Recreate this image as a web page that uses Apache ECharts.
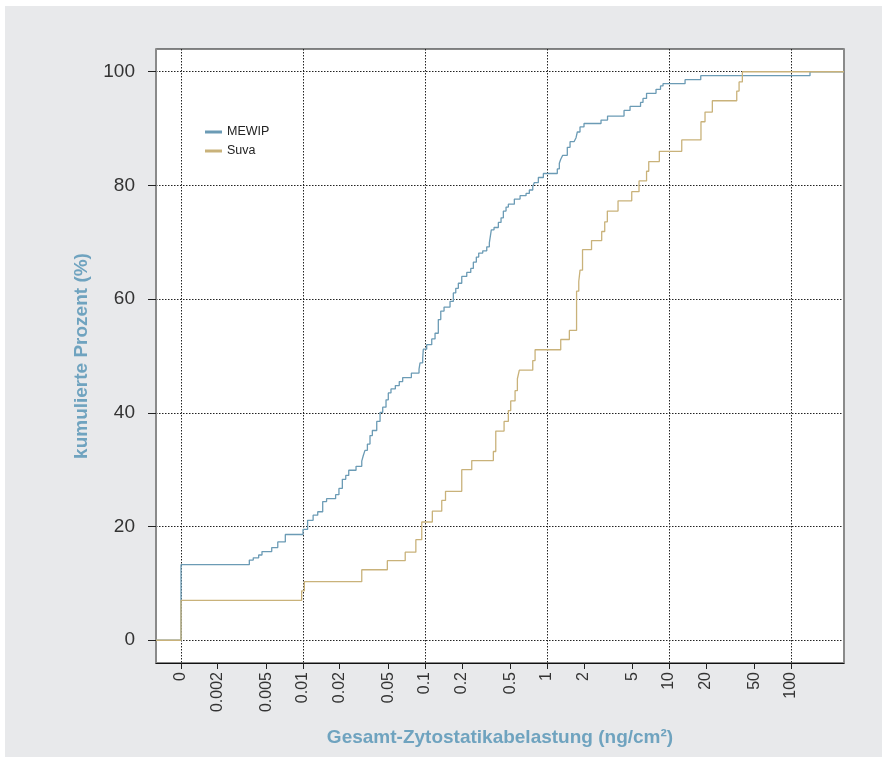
<!DOCTYPE html>
<html>
<head>
<meta charset="utf-8">
<script src="https://cdn.jsdelivr.net/npm/echarts@6/dist/echarts.min.js"></script>
<style>
  html, body { margin: 0; padding: 0; background: #fff; }
  #chart { width: 882px; height: 760px; }
</style>
</head>
<body>
<div id="chart"></div>
<script>
// ---- data ----
const seriesNames = ['MEWIP', 'Suva'];

// exposure values in ng/cm² (0 = below detection, drawn at the "0" tick)
const mewipX = [0, 0.00363, 0.00391, 0.00433, 0.00461, 0.00554, 0.00621, 0.00716, 0.0100, 0.0109,
  0.0121, 0.0132, 0.0145, 0.0156, 0.0185, 0.0197, 0.0210, 0.0224, 0.0237, 0.0272,
  0.0303, 0.0312, 0.0322, 0.0337, 0.0354, 0.0370, 0.0402, 0.0428, 0.0450, 0.0479,
  0.0500, 0.0526, 0.0571, 0.0615, 0.0656, 0.0773, 0.0893, 0.0910, 0.0957, 0.0968,
  0.1032, 0.1135, 0.1208, 0.1285, 0.1346, 0.1432, 0.1603, 0.1706, 0.1786, 0.1875,
  0.2000, 0.2198, 0.2371, 0.2489, 0.2633, 0.2754, 0.2972, 0.3206, 0.3366, 0.3494,
  0.3678, 0.3990, 0.4198, 0.4385, 0.4613, 0.4819, 0.5397, 0.6011, 0.6730, 0.7161,
  0.7638, 0.7871, 0.8487, 0.9330, 1.214, 1.261, 1.295, 1.344, 1.466, 1.544,
  1.665, 1.729, 1.771, 1.863, 2.009, 2.770, 3.133, 4.277, 4.790, 5.840,
  6.118, 6.541, 7.822, 8.514, 8.926, 13.53, 18.19, 143];
// cumulative percent
const mewipY = [13.3, 14.1, 14.5, 15.0, 15.6, 16.3, 17.3, 18.6, 19.5, 21.1,
  22.0, 22.6, 24.4, 24.9, 25.6, 26.7, 28.3, 29.0, 29.9, 30.6,
  31.5, 32.5, 33.4, 34.5, 36.0, 36.9, 38.5, 40.1, 41.0, 42.3,
  43.5, 44.2, 44.8, 45.5, 46.2, 47.0, 47.7, 48.8, 49.6, 51.2,
  52.0, 53.0, 54.0, 56.4, 57.9, 58.6, 59.6, 61.1, 61.9, 62.8,
  64.0, 64.7, 65.4, 66.5, 67.4, 68.1, 68.5, 69.2, 69.9, 72.2,
  72.6, 73.5, 74.3, 75.5, 76.2, 76.7, 77.6, 78.2, 78.6, 79.2,
  79.8, 80.5, 81.4, 82.1, 82.9, 83.9, 84.6, 85.3, 86.7, 87.7,
  88.0, 88.4, 89.4, 90.3, 90.9, 91.5, 92.2, 93.2, 93.9, 94.6,
  95.3, 96.2, 96.9, 97.5, 97.9, 98.6, 99.3, 100];

const suvaX = [0, 0.00975, 0.01025, 0.0303, 0.0491, 0.0688, 0.0841, 0.0940, 0.1148, 0.1371,
  0.1472, 0.2000, 0.2415, 0.3631, 0.3800, 0.4446, 0.4819, 0.5039, 0.5470, 0.5715,
  0.5929, 0.7638, 0.7980, 1.295, 1.524, 1.746, 1.820, 1.864, 1.954, 2.316,
  2.806, 2.971, 3.121, 3.819, 4.946, 5.675, 6.541, 6.818, 8.326, 12.71,
  18.27, 19.72, 22.64, 35.89, 37.50, 39.91];
const suvaY = [7.0, 8.7, 10.3, 12.4, 14.0, 15.5, 17.7, 20.8, 22.7, 24.6,
  26.2, 30.0, 31.6, 33.2, 36.8, 38.5, 40.4, 42.1, 43.9, 46.0,
  47.5, 49.2, 51.1, 52.9, 54.5, 61.4, 63.1, 65.1, 68.7, 70.3,
  71.9, 73.6, 75.5, 77.3, 78.9, 80.8, 82.5, 84.2, 86.0, 88.0,
  91.2, 92.9, 94.9, 96.6, 98.2, 100];

// axis ticks
const xTickValues = [0, 0.002, 0.005, 0.01, 0.02, 0.05, 0.1, 0.2, 0.5, 1, 2, 5, 10, 20, 50, 100];
const xTickLabels = ['0', '0.002', '0.005', '0.01', '0.02', '0.05', '0.1', '0.2', '0.5', '1', '2', '5', '10', '20', '50', '100'];
const xGridValues = [0, 0.01, 0.1, 1, 10, 100];
const yTickValues = [0, 20, 40, 60, 80, 100];

const xTitle = 'Gesamt-Zytostatikabelastung (ng/cm²)';
const yTitle = 'kumulierte Prozent (%)';

// ---- scale helpers ----
const ZERO_AT = 0.001;               // where "0" is placed on the log scale
const toLog = v => Math.log10(v === 0 ? ZERO_AT : v);
const X_MIN = -3.205, X_MAX = 2.434; // axis limits in log10 units
const Y_MIN = -4, Y_MAX = 104;

function ecdf(xs, ys) {
  const pts = [[X_MIN, 0]];
  for (let i = 0; i < xs.length; i++) pts.push([toLog(xs[i]), ys[i]]);
  pts.push([X_MAX, ys[ys.length - 1]]);
  return pts;
}

const xTickLog = xTickValues.map(toLog);
const xGridLog = xGridValues.map(toLog);

function xLabel(val) {
  for (let i = 0; i < xTickLog.length; i++) {
    if (Math.abs(xTickLog[i] - val) < 1e-6) return xTickLabels[i];
  }
  return '';
}

const FONT = '"Liberation Sans", Arial, sans-serif';
const TITLE_COLOR = '#6fa3bf';
const colors = ['#6b9bb5', '#c9b27a'];
const gridLine = { show: true, lineStyle: { color: '#222', type: [1.5, 1.5], width: 1 } };

const chart = echarts.init(document.getElementById('chart'), null, { renderer: 'canvas' });
chart.setOption({
  animation: false,
  backgroundColor: '#ffffff',
  textStyle: { fontFamily: FONT },
  graphic: [{
    type: 'rect', z: -100, silent: true,
    shape: { x: 5, y: 6, width: 877, height: 751 },
    style: { fill: '#e8e9eb' }
  }],
  grid: {
    left: 156, top: 49, right: 38, bottom: 97,
    show: true, backgroundColor: '#ffffff', borderColor: '#111', borderWidth: 1
  },
  legend: {
    data: seriesNames,
    orient: 'vertical',
    left: 200, top: 120,
    icon: 'rect', itemWidth: 17, itemHeight: 3, itemGap: 5,
    textStyle: { fontSize: 12.5, color: '#222', fontFamily: FONT, lineHeight: 14 }
  },
  xAxis: [{
    type: 'value', min: X_MIN, max: X_MAX, position: 'bottom',
    name: xTitle, nameLocation: 'middle', nameGap: 65,
    nameTextStyle: { fontSize: 19, fontWeight: 'bold', color: TITLE_COLOR, fontFamily: FONT },
    axisLine: { show: true, onZero: false, lineStyle: { color: '#111', width: 1 } },
    axisTick: { show: true, length: 6, customValues: xTickLog, lineStyle: { color: '#222' } },
    axisLabel: { show: true, customValues: xTickLog, rotate: 90, fontSize: 16, margin: 9,
      color: '#333', fontFamily: FONT, formatter: xLabel },
    splitLine: { show: false }
  }, {
    type: 'value', min: X_MIN, max: X_MAX, position: 'bottom',
    axisLine: { show: false, onZero: false },
    axisTick: { show: false, customValues: xGridLog },
    axisLabel: { show: false, customValues: xGridLog },
    splitLine: gridLine
  }],
  yAxis: [{
    type: 'value', min: Y_MIN, max: Y_MAX, position: 'left',
    name: yTitle, nameLocation: 'middle', nameGap: 65,
    nameTextStyle: { fontSize: 19, fontWeight: 'bold', color: TITLE_COLOR, fontFamily: FONT },
    axisLine: { show: true, onZero: false, lineStyle: { color: '#8a8a8a', width: 2 } },
    axisTick: { show: true, length: 8, customValues: yTickValues, lineStyle: { color: '#222' } },
    axisLabel: { show: true, customValues: yTickValues, fontSize: 19, margin: 21, color: '#333', fontFamily: FONT },
    splitLine: gridLine
  }, {
    type: 'value', min: Y_MIN, max: Y_MAX, position: 'right',
    axisLine: { show: true, onZero: false, lineStyle: { color: '#8a8a8a', width: 2 } },
    axisTick: { show: false }, axisLabel: { show: false }, splitLine: { show: false }
  }],
  series: [{
    name: seriesNames[0], type: 'line', step: 'end', showSymbol: false, symbol: 'none',
    xAxisIndex: 0, yAxisIndex: 0,
    data: ecdf(mewipX, mewipY),
    itemStyle: { color: colors[0] },
    lineStyle: { color: colors[0], width: 1.3 }
  }, {
    name: seriesNames[1], type: 'line', step: 'end', showSymbol: false, symbol: 'none',
    xAxisIndex: 0, yAxisIndex: 0,
    data: ecdf(suvaX, suvaY),
    itemStyle: { color: colors[1] },
    lineStyle: { color: colors[1], width: 1.3 }
  }]
});
</script>
</body>
</html>
